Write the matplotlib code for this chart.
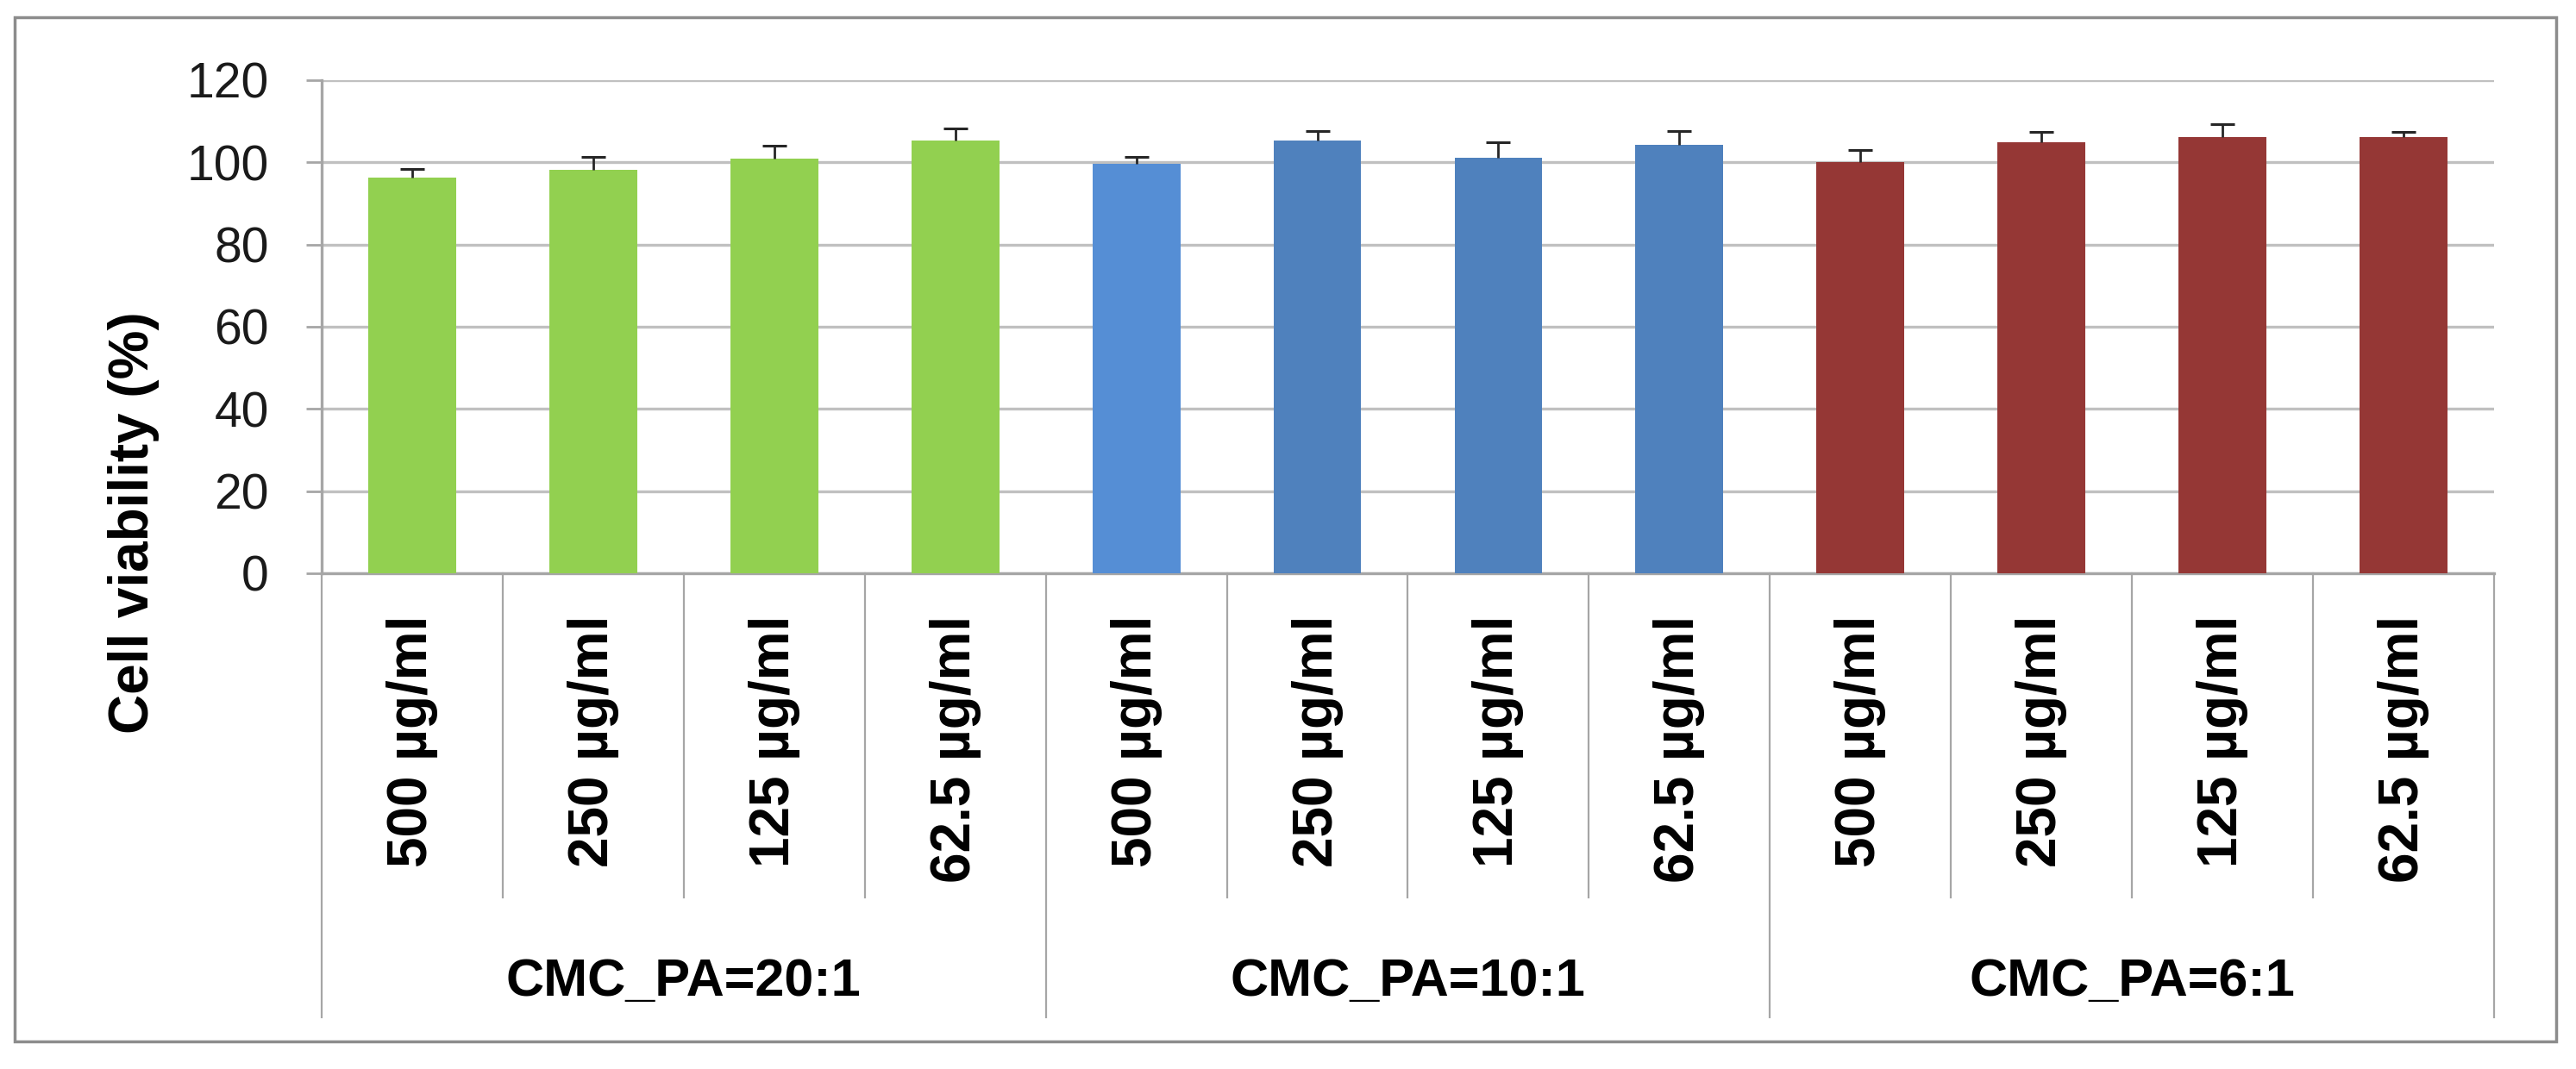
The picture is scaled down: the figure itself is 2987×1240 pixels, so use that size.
import matplotlib.pyplot as plt
from matplotlib.patches import Rectangle

# values
groups = ["CMC_PA=20:1", "CMC_PA=10:1", "CMC_PA=6:1"]
doses = ["500 µg/ml", "250 µg/ml", "125 µg/ml", "62.5 µg/ml"]
viability_20 = [96.3, 98.1, 100.9, 105.3]
viability_10 = [99.7, 105.3, 101.1, 104.2]
viability_6 = [100.1, 104.9, 106.2, 106.2]
err_20 = [2.0, 3.3, 3.2, 3.0]
err_10 = [1.7, 2.3, 3.7, 3.4]
err_6 = [2.9, 2.6, 3.2, 1.3]
yticks = [0, 20, 40, 60, 80, 100, 120]

colors = (["#92D050"] * 4
          + ["#558ED5", "#4F81BD", "#4F81BD", "#4F81BD"]
          + ["#953735"] * 4)

values = viability_20 + viability_10 + viability_6
errors = err_20 + err_10 + err_6
labels = doses * len(groups)
x = list(range(len(values)))

W, H = 2987, 1240
fig = plt.figure(figsize=(W / 100, H / 100), dpi=100)
ax = fig.add_axes([373 / W, 1 - 665 / H, (2892 - 373) / W, (665 - 93) / H])

ax.bar(x, values, width=0.485, color=colors, zorder=3)
_, caps, _ = ax.errorbar(x, values, yerr=[[0] * len(errors), errors],
                         fmt="none", ecolor="#262626", elinewidth=2.0,
                         capsize=10, capthick=2.2, zorder=4)
# only the upper cap is drawn in the original
caps[0].set_visible(False)

ax.set_xlim(-0.5, len(values) - 0.5)
ax.set_ylim(0, 120)
ax.set_yticks(yticks)
ax.set_yticklabels([str(t) for t in yticks],
                   fontsize=41, family="Liberation Sans", color="#1a1a1a")
ax.tick_params(axis="y", length=13, width=2, color="#A6A6A6", pad=31)
ax.set_xticks([])
ax.grid(axis="y", color="#C0C0C0", linewidth=2.4, zorder=0)

for side in ["top", "right"]:
    ax.spines[side].set_visible(False)
for side in ["left", "bottom"]:
    ax.spines[side].set_color("#A6A6A6")
    ax.spines[side].set_linewidth(2.4)

# category separators below the axis
trans = ax.get_xaxis_transform()
short_end = (665 - 1041) / 572
long_end = (665 - 1180) / 572
for i in range(len(values) + 1):
    xb = i - 0.5
    y_end = long_end if i % len(doses) == 0 else short_end
    ax.plot([xb, xb], [0, y_end], transform=trans, color="#A6A6A6",
            linewidth=1.6, clip_on=False)

# dose labels
lab_y = (665 - 714) / 572
for xi, lab in zip(x, labels):
    ax.text(xi, lab_y, lab, transform=trans, rotation=90, ha="center",
            va="top", fontsize=46, fontweight="bold",
            family="Liberation Sans", color="#000000")

# group labels
grp_y = (665 - 1155) / 572
for gi, g in enumerate(groups):
    xc = gi * len(doses) + (len(doses) - 1) / 2
    ax.text(xc, grp_y, g, transform=trans, ha="center", va="baseline",
            fontsize=44, fontweight="bold", family="Liberation Sans",
            color="#000000")

fig.text(155 / W, 1 - 606 / H, "Cell viability (%)", rotation=90,
         ha="center", va="center", fontsize=46, fontweight="bold",
         family="Liberation Sans")

# outer chart border
fig.patches.append(Rectangle((17 / W, 1 - 1208 / H), (2964 - 17) / W,
                             (1208 - 20) / H, transform=fig.transFigure,
                             fill=False, edgecolor="#8C8C8C", linewidth=2.5))

fig.savefig("out.png", dpi=100, facecolor="white")
